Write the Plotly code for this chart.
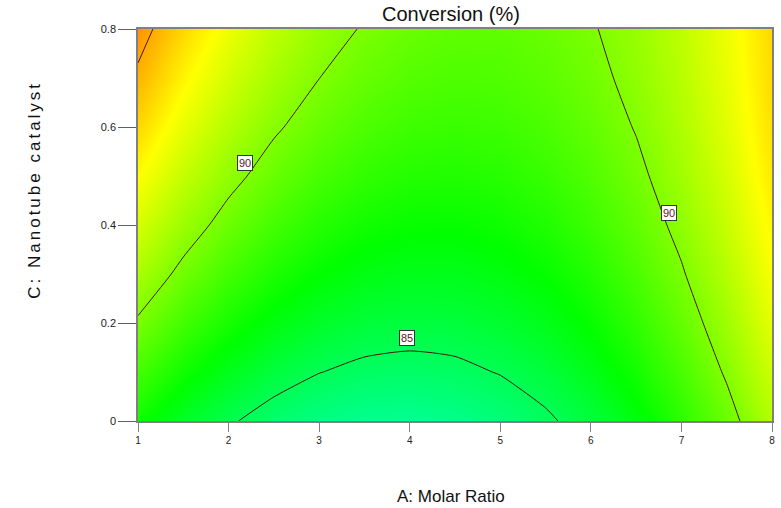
import plotly.graph_objects as go

# Factor levels (grid of the response surface)
molar_ratio = [1.0, 1.5, 2.0, 2.5, 3.0, 3.5, 4.0, 4.5, 5.0, 5.5, 6.0, 6.5, 7.0, 7.5, 8.0]
catalyst = [0.0, 0.1, 0.2, 0.3, 0.4, 0.5, 0.6, 0.7, 0.8]

# Predicted conversion (%) — one row per catalyst level
conversion = [
    [87.30, 86.12, 85.16, 84.43, 83.93, 83.64, 83.59, 83.76, 84.15, 84.77, 85.61, 86.68, 87.98, 89.49, 91.24],
    [88.60, 87.37, 86.37, 85.59, 85.03, 84.70, 84.60, 84.72, 85.06, 85.63, 86.42, 87.44, 88.69, 90.16, 91.85],
    [89.83, 88.55, 87.49, 86.66, 86.06, 85.68, 85.53, 85.60, 85.89, 86.41, 87.16, 88.13, 89.32, 90.74, 92.39],
    [90.97, 89.65, 88.54, 87.66, 87.01, 86.58, 86.38, 86.40, 86.64, 87.11, 87.81, 88.73, 89.88, 91.25, 92.85],
    [92.04, 90.66, 89.51, 88.58, 87.88, 87.40, 87.15, 87.12, 87.32, 87.74, 88.39, 89.26, 90.35, 91.68, 93.22],
    [93.03, 91.60, 90.40, 89.42, 88.67, 88.14, 87.84, 87.76, 87.91, 88.28, 88.88, 89.70, 90.75, 92.02, 93.52],
    [93.94, 92.46, 91.21, 90.18, 89.38, 88.80, 88.45, 88.33, 88.43, 88.75, 89.30, 90.07, 91.07, 92.29, 93.74],
    [94.77, 93.24, 91.94, 90.87, 90.01, 89.39, 88.99, 88.81, 88.86, 89.14, 89.64, 90.36, 91.31, 92.48, 93.88],
    [95.52, 93.94, 92.59, 91.47, 90.57, 89.89, 89.44, 89.22, 89.22, 89.44, 89.89, 90.57, 91.47, 92.59, 93.94],
]

# Contour levels and where their value tags sit
levels = [85, 90, 95]
tag_text = ["90", "90", "85"]
tag_a = [2.18, 6.86, 3.97]
tag_c = [0.527, 0.424, 0.169]

x_ticks = [1, 2, 3, 4, 5, 6, 7, 8]
y_ticks = [0, 0.2, 0.4, 0.6, 0.8]
y_tick_text = ["0", "0.2", "0.4", "0.6", "0.8"]

FONT = "Arial, Liberation Sans, sans-serif"
LINE = "#4a1414"

scale = [
    [0.0, "rgb(0,0,255)"],
    [0.25, "rgb(0,255,255)"],
    [0.5, "rgb(0,255,0)"],
    [0.75, "rgb(255,255,0)"],
    [1.0, "rgb(255,0,0)"],
]

fig = go.Figure()
fig.add_trace(go.Contour(
    x=molar_ratio,
    y=catalyst,
    z=conversion,
    colorscale=scale,
    zmin=75,
    zmax=99,
    showscale=False,
    contours=dict(coloring="heatmap", start=levels[0], end=levels[-1],
                  size=levels[1] - levels[0], showlabels=False),
    line=dict(color=LINE, width=1, smoothing=0.6),
    hoverinfo="skip",
))

for t, a, c in zip(tag_text, tag_a, tag_c):
    fig.add_annotation(
        x=a, y=c, text=t, showarrow=False,
        font=dict(family=FONT, size=11, color="#5a1a1a"),
        bgcolor="white", bordercolor="#333333", borderwidth=1, borderpad=1,
    )

fig.add_annotation(
    text="Conversion (%)", xref="paper", yref="paper", x=0.494, y=1,
    yanchor="middle", yshift=15, showarrow=False,
    font=dict(family=FONT, size=20, color="#111111"),
)
fig.add_annotation(
    text="A: Molar Ratio", xref="paper", yref="paper", x=0.494, y=0,
    yanchor="middle", yshift=-75, showarrow=False,
    font=dict(family=FONT, size=17, color="#111111"),
)
fig.add_annotation(
    text='<span style="letter-spacing:3px">C: Nanotube catalyst</span>',
    xref="paper", yref="paper", x=0, y=0.59,
    xanchor="center", yanchor="middle", xshift=-103, textangle=-90,
    showarrow=False, font=dict(family=FONT, size=17, color="#111111"),
)

fig.update_xaxes(
    range=[1, 8], tickvals=x_ticks, ticks="outside", ticklen=9, tickcolor="#808080",
    showline=True, linecolor="#808080", linewidth=1.5, mirror=True,
    showgrid=False, zeroline=False, tickfont=dict(family=FONT, size=10, color="#222222"),
)
fig.update_yaxes(
    range=[0, 0.8], tickvals=y_ticks, ticktext=y_tick_text, ticks="outside",
    ticklen=18, tickcolor="#606060",
    showline=True, linecolor="#808080", linewidth=1.5, mirror=True,
    showgrid=False, zeroline=False, tickfont=dict(family=FONT, size=11, color="#222222"),
)

fig.update_layout(
    width=781, height=508,
    margin=dict(l=138, r=6, t=29, b=87),
    paper_bgcolor="white", plot_bgcolor="white",
    showlegend=False,
)

fig.write_html("out.html")
